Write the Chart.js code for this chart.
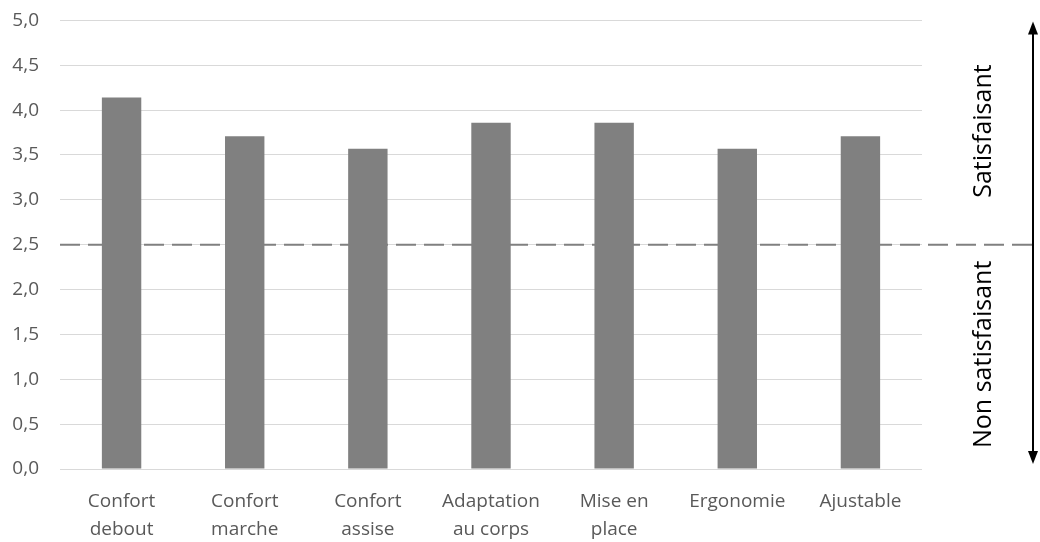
<!DOCTYPE html>
<html>
<head>
<meta charset="utf-8">
<script src="https://cdn.jsdelivr.net/npm/chart.js@4/dist/chart.umd.min.js"></script>
<style>
  html, body { margin: 0; padding: 0; background: #fff; }
  #wrap { width: 1040px; height: 542px; }
</style>
</head>
<body>
<div id="wrap"><canvas id="myChart" width="1040" height="542"></canvas></div>
<script>
const categories = [
  ["Confort", "debout"],
  ["Confort", "marche"],
  ["Confort", "assise"],
  ["Adaptation", "au corps"],
  ["Mise en", "place"],
  ["Ergonomie"],
  ["Ajustable"],
];
const scores = [4.14, 3.71, 3.57, 3.86, 3.86, 3.57, 3.71];
const threshold = 2.5;
const yMin = 0;
const yMax = 5;
const yStep = 0.5;
const upperLabel = "Satisfaisant";
const lowerLabel = "Non satisfaisant";

const FONT = "'Open Sans', 'Noto Sans', sans-serif";

// dashed threshold line + arrow with the two zone labels
const zones = {
  id: "zones",
  beforeDatasetsDraw(chart) {
    const { ctx, chartArea, scales } = chart;
    const y = scales.y.getPixelForValue(threshold);
    ctx.save();
    ctx.strokeStyle = "#808080";
    ctx.lineWidth = 2;
    ctx.setLineDash([20, 8]);
    ctx.beginPath();
    ctx.moveTo(chartArea.left, y);
    ctx.lineTo(chart.width - 5, y);
    ctx.stroke();
    ctx.restore();
  },
  afterDraw(chart) {
    const { ctx, scales } = chart;
    const top = scales.y.getPixelForValue(yMax) + 1;
    const bottom = scales.y.getPixelForValue(yMin) - 5;
    const mid = scales.y.getPixelForValue(threshold);
    const x = 1033;
    ctx.save();
    ctx.strokeStyle = "#000";
    ctx.fillStyle = "#000";
    ctx.lineWidth = 2;
    ctx.beginPath();
    ctx.moveTo(x, top + 10);
    ctx.lineTo(x, bottom - 10);
    ctx.stroke();
    ctx.beginPath();
    ctx.moveTo(x, top);
    ctx.lineTo(x - 5, top + 13);
    ctx.lineTo(x + 5, top + 13);
    ctx.closePath();
    ctx.fill();
    ctx.beginPath();
    ctx.moveTo(x, bottom);
    ctx.lineTo(x - 5, bottom - 13);
    ctx.lineTo(x + 5, bottom - 13);
    ctx.closePath();
    ctx.fill();

    ctx.font = "25px " + FONT;
    ctx.textAlign = "center";
    ctx.textBaseline = "middle";
    ctx.fillStyle = "#000";
    const tx = 984;
    const upY = (top + mid) / 2 - 2;
    const lowY = (mid + bottom) / 2;
    ctx.translate(tx, upY);
    ctx.rotate(-Math.PI / 2);
    ctx.fillText(upperLabel, 0, 0);
    ctx.rotate(Math.PI / 2);
    ctx.translate(0, lowY - upY);
    ctx.rotate(-Math.PI / 2);
    ctx.fillText(lowerLabel, 0, 0);
    ctx.restore();
  },
};

new Chart(document.getElementById("myChart"), {
  type: "bar",
  data: {
    labels: categories,
    datasets: [
      {
        data: scores,
        backgroundColor: "#808080",
        borderWidth: 0,
        barPercentage: 0.32,
        categoryPercentage: 1,
      },
    ],
  },
  options: {
    responsive: false,
    animation: false,
    layout: { padding: { top: 0, right: 118, left: 0, bottom: 0 } },
    plugins: {
      legend: { display: false },
      tooltip: { enabled: false },
    },
    scales: {
      x: {
        grid: { display: false, drawTicks: false },
        border: { display: false },
        ticks: {
          color: "#595959",
          font: { family: FONT, size: 19, lineHeight: 1.45 },
          padding: 19,
          maxRotation: 0,
          autoSkip: false,
        },
        afterFit(scale) { scale.height = 73; },
      },
      y: {
        min: yMin,
        max: yMax,
        grid: { color: "#d9d9d9", lineWidth: 1, drawTicks: true, tickLength: 12, tickColor: "rgba(0,0,0,0)" },
        border: { display: false },
        ticks: {
          stepSize: yStep,
          color: "#595959",
          padding: 9,
          font: { family: FONT, size: 19 },
          callback: (v) => v.toFixed(1).replace(".", ","),
        },
        afterFit(scale) { scale.width = 60; },
      },
    },
  },
  plugins: [zones],
});
</script>
</body>
</html>
